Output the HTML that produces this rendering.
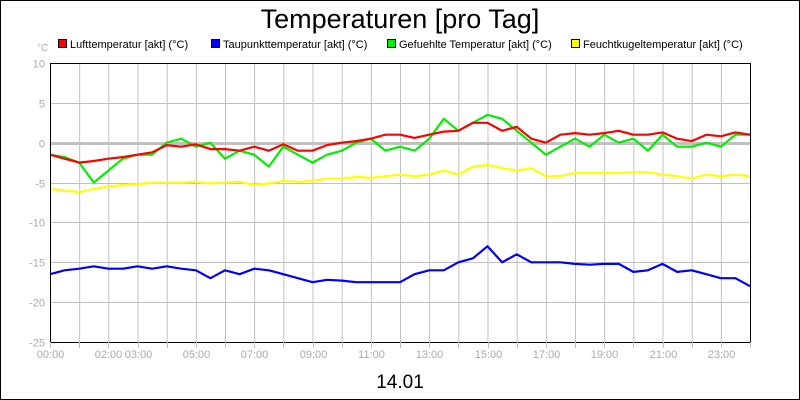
<!DOCTYPE html>
<html><head><meta charset="utf-8"><style>
body{margin:0;background:#fff;font-family:"Liberation Sans",sans-serif}
svg{display:block}
</style></head><body>
<svg id="c" width="800" height="400" xmlns="http://www.w3.org/2000/svg">
<rect x="0.5" y="0.5" width="799" height="399" fill="#fff" stroke="#000"/>
<text x="400" y="28" text-anchor="middle" font-size="27" font-family="Liberation Sans, sans-serif">Temperaturen [pro Tag]</text>
<text x="400" y="388" text-anchor="middle" font-size="19" font-family="Liberation Sans, sans-serif">14.01</text>
<text x="37" y="51" font-size="10" fill="#aaa" font-family="Liberation Sans, sans-serif">°C</text>
<g id="legend"></g>
<g id="grid"></g>
<g id="series"></g>
<g id="axes"></g>
</svg>
<script>
const hours = [];
for (let i = 0; i <= 48; i++) hours.push(i / 2);
const yTicks = [10, 5, 0, -5, -10, -15, -20, -25];
const xTickLabels = ["00:00","","02:00","03:00","","05:00","","07:00","","09:00","","11:00","","13:00","","15:00","","17:00","","19:00","","21:00","","23:00",""];
const seriesNames = ["Lufttemperatur [akt] (°C)","Taupunkttemperatur [akt] (°C)","Gefuehlte Temperatur [akt] (°C)","Feuchtkugeltemperatur [akt] (°C)"];
const luft = [-1.5,-2,-2.5,-2.3,-2,-1.8,-1.5,-1.2,-0.3,-0.5,-0.2,-0.8,-0.8,-1,-0.5,-1,-0.2,-1,-1,-0.3,0,0.2,0.5,1,1,0.6,1,1.4,1.5,2.5,2.5,1.5,2,0.5,0,1,1.2,1,1.2,1.5,1,1,1.3,0.5,0.2,1,0.8,1.3,1];
const taupunkt = [-16.5,-16,-15.8,-15.5,-15.8,-15.8,-15.5,-15.8,-15.5,-15.8,-16,-17,-16,-16.5,-15.8,-16,-16.5,-17,-17.5,-17.2,-17.3,-17.5,-17.5,-17.5,-17.5,-16.5,-16,-16,-15,-14.5,-13,-15,-14,-15,-15,-15,-15.2,-15.3,-15.2,-15.2,-16.2,-16,-15.2,-16.2,-16,-16.5,-17,-17,-18];
const gefuehlt = [-1.5,-1.8,-2.5,-5,-3.5,-2,-1.5,-1.5,0,0.5,-0.5,0,-2,-1,-1.5,-3,-0.5,-1.5,-2.5,-1.5,-1,0,0.5,-1,-0.5,-1,0.5,3,1.5,2.5,3.5,3,1.5,0,-1.5,-0.5,0.5,-0.5,1,0,0.5,-1,1,-0.5,-0.5,0,-0.5,1,1];
const feucht = [-5.8,-6,-6.2,-5.8,-5.5,-5.3,-5.2,-5,-5,-5,-4.9,-5.1,-5,-4.9,-5.3,-5.1,-4.8,-4.9,-4.8,-4.5,-4.5,-4.3,-4.4,-4.2,-4,-4.2,-4,-3.5,-4,-3,-2.8,-3.2,-3.5,-3.2,-4.2,-4.2,-3.8,-3.8,-3.8,-3.8,-3.7,-3.7,-4,-4.2,-4.5,-4,-4.2,-4,-4.2];

const NS = "http://www.w3.org/2000/svg";
const L = 50, R = 750, T = 63, B = 342, YMAX = 10, YMIN = -25;
const xS = h => L + h / 24 * (R - L);
const yS = v => T + (YMAX - v) / (YMAX - YMIN) * (B - T);
function mk(tag, attrs, parent) { const e = document.createElementNS(NS, tag); for (const k in attrs) e.setAttribute(k, attrs[k]); parent.appendChild(e); return e; }
const grid = document.getElementById("grid"), axes = document.getElementById("axes"), ser = document.getElementById("series"), leg = document.getElementById("legend");

for (let h = 1; h < 24; h++) {
  const l = mk("line", {x1: xS(h)+0.5, x2: xS(h)+0.5, y1: T, y2: B, stroke: "#c0c0c0"}, grid);
  
  
}
yTicks.forEach(v => {
  const y = Math.round(yS(v)) + 0.5;
  const l = mk("line", {x1: L, x2: R, y1: y, y2: y, stroke: "#c0c0c0", "stroke-width": v === 0 ? 3 : 1}, grid);
  
  
  const t = mk("text", {x: 45, y: y + 4, "text-anchor": "end", "font-size": 11, fill: "#aaa", "font-family": "Liberation Sans, sans-serif"}, axes);
  t.textContent = v;
  
  
});
const frame = mk("rect", {x: L + 0.5, y: T + 0.5, width: R - L, height: B - T, fill: "none", stroke: "#000"}, axes);


xTickLabels.forEach((lab, h) => {
  const x = Math.round(xS(h)) + 0.5;
  const tk = mk("line", {x1: x, x2: x, y1: B, y2: B + 6, stroke: "#c0c0c0"}, axes);
  
  
  if (lab) {
    const t = mk("text", {x: x, y: B + 16, "text-anchor": "middle", "font-size": 11, fill: "#aaa", "font-family": "Liberation Sans, sans-serif"}, axes);
    t.textContent = lab;
    
    
  }
});
const tk24 = mk("line", {x1: R + 0.5, x2: R + 0.5, y1: B, y2: B + 6, stroke: "#c0c0c0"}, axes);



const data = [feucht, taupunkt, gefuehlt, luft];
const cols = ["#ffff00", "#0000ff", "#00ee00", "#ff0000"];
const names = ["feuchtkugel-line", "taupunkt-line", "gefuehlt-line", "luft-line"];
data.forEach((arr, i) => {
  const d = arr.map((v, j) => (j ? "L" : "M") + xS(hours[j]).toFixed(1) + " " + yS(v).toFixed(1)).join(" ");
  const p = mk("path", {d: d, fill: "none", stroke: cols[i], "stroke-width": 2.2, "stroke-linejoin": "round"}, ser);
  
  
});

const legX = [58, 211, 387, 571];
const legCol = ["#ff0000", "#0000ff", "#00ee00", "#ffff00"];
seriesNames.forEach((n, i) => {
  const g = mk("g", {}, leg);
  
  
  mk("rect", {x: legX[i] + 0.5, y: 39.5, width: 8, height: 8, fill: legCol[i], stroke: "#000"}, g);
  const t = mk("text", {x: legX[i] + 12, y: 48, "font-size": 11, "font-family": "Liberation Sans, sans-serif"}, g);
  t.textContent = n;
});
</script>
</body></html>
